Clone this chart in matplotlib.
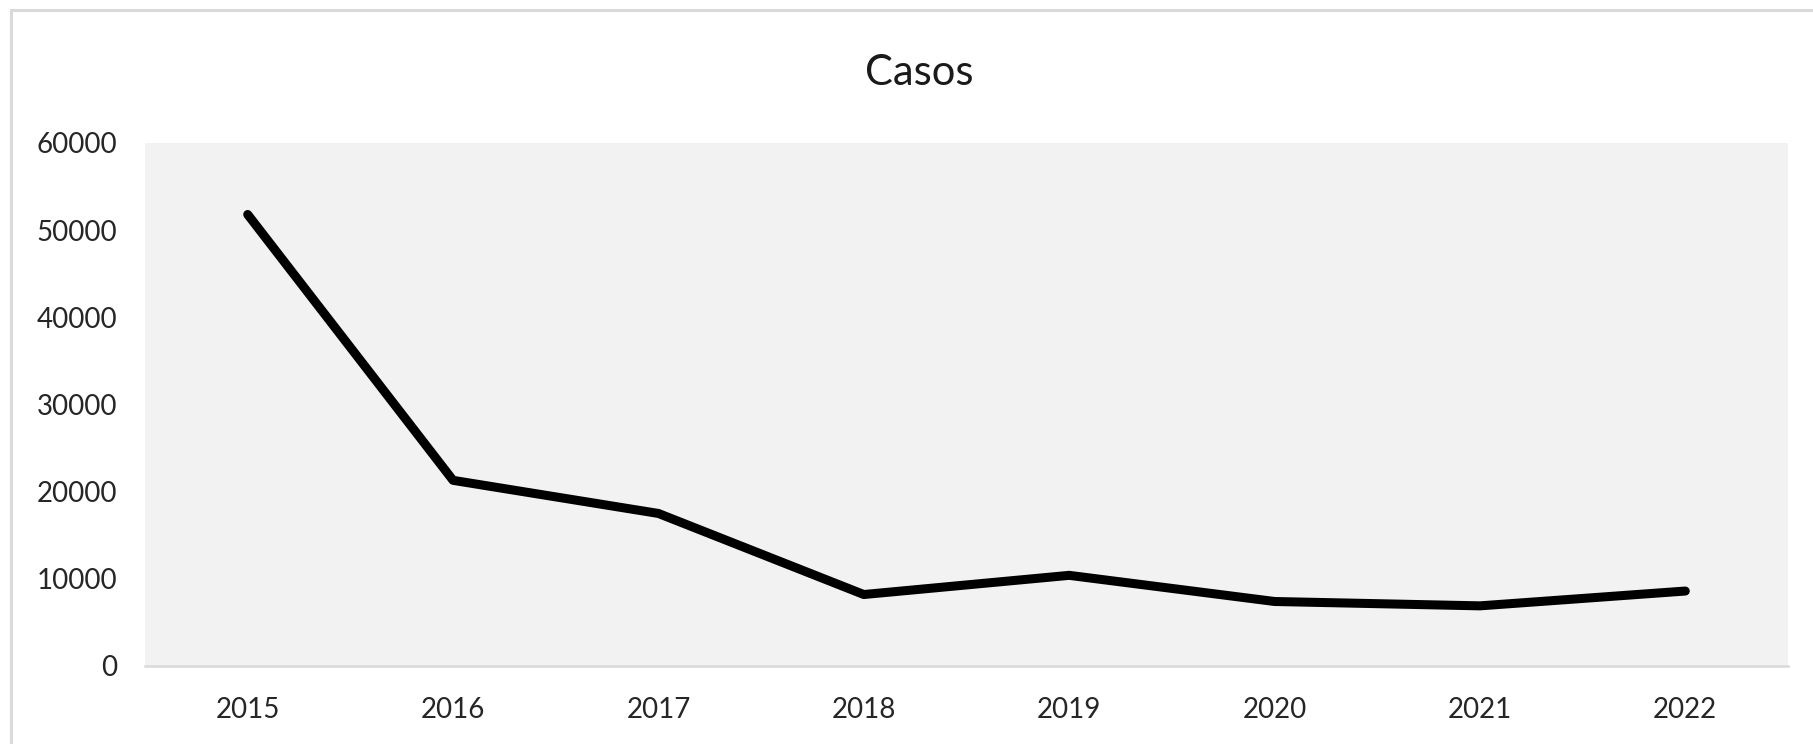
"""
Casos por año (2015-2022) - Excel style line chart.
"""

import matplotlib
matplotlib.use("Agg")
import matplotlib.pyplot as plt
from matplotlib.patches import Rectangle

years = ["2015", "2016", "2017", "2018", "2019", "2020", "2021", "2022"]
casos = [51800, 21300, 17500, 8200, 10400, 7400, 6900, 8600]
y_ticks = [0, 10000, 20000, 30000, 40000, 50000, 60000]

plt.rcParams['font.family'] = ['Lato', 'DejaVu Sans']

W, H = 1813, 744
fig = plt.figure(figsize=(W / 100, H / 100), dpi=100)
fig.patch.set_facecolor('white')

# outer chart border (cut off on the right and bottom like the screenshot)
fig.patches.append(Rectangle((11 / W, -0.1), 1.2, 1 - 10 / H + 0.1,
                             transform=fig.transFigure, fill=False,
                             edgecolor='#d9d9d9', linewidth=2.2))

ax = fig.add_axes([145 / W, 1 - 666 / H, (1788 - 145) / W, (666 - 143) / H])
ax.set_facecolor('#f2f2f2')

x = list(range(len(years)))
ax.plot(x, casos, color='black', linewidth=6.5, solid_capstyle='round',
        solid_joinstyle='round')

ax.set_xlim(-0.5, len(years) - 0.5)
ax.set_ylim(0, 60000)
ax.set_xticks(x)
ax.set_xticklabels(years)
ax.set_yticks(y_ticks)
ax.set_yticklabels([str(v) for v in y_ticks])
ax.tick_params(axis='both', length=0, labelsize=20, colors='#262626')
ax.tick_params(axis='y', pad=20)
ax.tick_params(axis='x', pad=22)

for side in ['top', 'right', 'left']:
    ax.spines[side].set_visible(False)
ax.spines['bottom'].set_color('#d9d9d9')
ax.spines['bottom'].set_linewidth(1.8)

fig.text(919 / W, 1 - 73 / H, 'Casos', ha='center', va='center',
         fontsize=30, color='#1a1a1a')

plt.savefig('out.png', dpi=100)
